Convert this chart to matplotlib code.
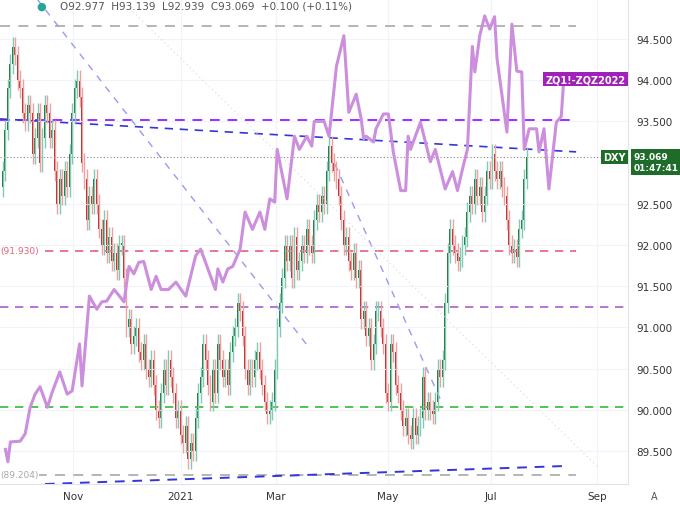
import numpy as np
import matplotlib.pyplot as plt
from matplotlib.patches import Rectangle

# DXY daily closes (bar index 0 = late Sep 2020)
closes = [
    92.9, 93.4, 93.9, 94.2, 94.4, 94.3, 94.0, 93.9, 93.6, 93.5,
    93.7, 93.6, 93.1, 93.3, 93.6, 93.0, 93.3, 93.7, 93.6, 93.3,
    93.4, 92.9, 92.5, 92.8, 92.6, 92.9, 92.7, 93.1, 93.6, 93.9,
    94.0, 93.8, 93.0, 92.8, 92.3, 92.6, 92.5, 92.8, 92.5, 92.2,
    92.0, 92.3, 91.9, 92.1, 91.8, 91.9, 91.7, 92.0, 92.0, 91.6,
    91.0, 91.1, 90.8, 90.9, 91.0, 90.7, 90.6, 90.8, 90.5, 90.4,
    90.6, 90.3, 90.0, 89.9, 90.2, 90.5, 90.3, 90.6, 90.4, 90.2,
    89.9, 90.0, 89.7, 89.6, 89.8, 89.4, 89.6, 89.5, 89.9, 90.2,
    90.4, 90.8, 90.6, 90.3, 90.1, 90.5, 90.2, 90.8, 90.6, 90.4,
    90.5, 90.3, 90.7, 90.9, 91.0, 91.3, 91.2, 90.9, 90.5, 90.3,
    90.5, 90.4, 90.6, 90.7, 90.5, 90.3, 90.1, 89.95, 90.0, 90.1,
    90.5, 91.0, 91.3, 91.6, 92.0, 91.8, 92.0, 91.6, 92.1, 91.7,
    91.8, 92.0, 91.9, 92.2, 92.0, 91.9, 92.3, 92.5, 92.4, 92.6,
    92.5, 92.9, 93.2, 93.0, 92.9, 92.8, 92.6, 92.3, 92.0, 92.1,
    91.8, 91.7, 91.9, 91.6, 91.7, 91.1, 91.2, 90.9, 91.0, 90.6,
    90.8, 91.2, 91.2, 91.0, 90.8, 90.2, 90.1, 90.8, 90.7, 90.3,
    90.2, 90.0, 89.8, 89.9, 89.7, 89.65, 89.9, 89.7, 89.8, 89.9,
    90.4, 90.0, 90.1, 90.0, 89.95, 90.1, 90.5, 90.4, 90.6, 91.3,
    91.9, 92.2, 92.0, 91.9, 91.8, 91.85, 92.0, 92.1, 92.4, 92.6,
    92.5, 92.8, 92.6, 92.7, 92.4, 92.6, 92.9, 92.8, 93.1, 92.9,
    92.8, 92.9, 92.7, 92.6, 92.3, 92.0, 91.9, 91.95, 91.85, 92.2,
    92.3, 92.8, 93.069,
]
first_open = 92.7

# ZQ1!-ZQZ2022 spread overlay, read at these bar indices (price-scaled)
zq_idx = [1, 2, 3, 7, 9, 11, 13, 15, 18, 20, 23, 26, 28, 31, 32, 35, 38, 40, 42, 45,
          49, 51, 53, 55, 57, 60, 62, 64, 67, 70, 74, 78, 80, 82, 86, 87, 89, 91, 93, 96,
          98, 101, 104, 106, 108, 110, 111, 115, 118, 120, 123, 125, 126, 130, 132, 135, 138,
          140, 143, 145, 146, 147, 150, 151, 154, 156, 158, 161, 163, 164, 165, 169, 171, 173,
          175, 179, 182, 184, 186, 188, 190, 191, 193, 195, 197, 199, 200, 204, 206, 208, 210,
          211, 213, 216, 217, 219, 221, 224, 226, 227]
zq_val = [89.52, 89.37, 89.61, 89.62, 89.71, 90.03, 90.19, 90.28, 90.03, 90.22, 90.46, 90.19,
          90.23, 90.80, 90.29, 91.38, 91.22, 91.31, 91.32, 91.46, 91.31, 91.74, 91.65, 91.79,
          91.80, 91.46, 91.62, 91.46, 91.46, 91.55, 91.38, 91.87, 91.95, 91.79, 91.46, 91.71,
          91.55, 91.71, 91.74, 91.95, 92.40, 92.19, 92.40, 92.19, 92.56, 92.52, 93.16, 92.56,
          93.32, 93.16, 93.32, 93.20, 93.50, 93.50, 93.32, 94.17, 94.54, 93.61, 93.83, 93.53,
          93.29, 93.32, 93.25, 93.41, 93.59, 93.59, 93.13, 92.66, 92.66, 93.32, 93.16, 93.49,
          93.25, 93.01, 93.16, 92.68, 92.89, 92.66, 92.92, 93.16, 94.41, 94.10, 94.54, 94.78,
          94.62, 94.77, 94.26, 93.37, 94.68, 94.11, 94.10, 93.16, 93.41, 93.41, 93.13, 93.41,
          92.68, 93.49, 93.56, 94.01]

tick_pos = [28.4, 72, 110.5, 155.9, 197.6, 240.5]
tick_lab = ["Nov", "2021", "Mar", "May", "Jul", "Sep"]
# 93.000 is hidden behind the live price box
y_ticks = [89.5, 90.0, 90.5, 91.0, 91.5, 92.0, 92.5, 93.5, 94.0, 94.5]

fig = plt.figure(figsize=(6.8, 5.06), dpi=100)
ax = fig.add_axes([0, 0.0415, 0.9235, 0.9585])
ax.set_xlim(-1.2, 253)
ax.set_ylim(89.1, 94.985)

ax.set_yticks(y_ticks)
ax.set_xticks(tick_pos)
ax.set_xticklabels(tick_lab)
ax.grid(color="#f0f3fa", lw=0.8)
ax.yaxis.tick_right()
ax.tick_params(axis="y", length=0, labelsize=7.5, colors="#333333", pad=6)
ax.tick_params(axis="x", length=0, labelsize=7.5, colors="#333333", pad=5)
ax.yaxis.set_major_formatter(plt.FuncFormatter(lambda v, p: f"{v:.3f}"))
for s in ["top", "left"]:
    ax.spines[s].set_visible(False)
ax.spines["right"].set_color("#e0e3eb")
ax.spines["bottom"].set_color("#e0e3eb")

# horizontal / trend lines
end = 232
ax.plot([-1.2, end], [94.66, 94.66], ls=(0, (6, 5)), color="#a8a8a8", lw=1.2)
ax.plot([-1.2, end], [89.21, 89.21], ls=(0, (6, 5)), color="#a8a8a8", lw=1.2)
ax.plot([-1.2, end], [93.52, 93.52], ls=(0, (5, 4)), color="#9b30ff", lw=1.4)
ax.plot([-1.2, end], [91.93, 91.93], ls=(0, (5, 4)), color="#e0607e", lw=1.2)
ax.plot([-1.2, 253], [91.25, 91.25], ls=(0, (5, 4)), color="#b05cc8", lw=1.2)
ax.plot([-1.2, 253], [90.03, 90.03], ls=(0, (5, 4)), color="#33bb33", lw=1.2)
ax.plot([-1.2, end], [93.53, 93.13], ls=(0, (5, 4)), color="#3535d8", lw=1.2)
ax.plot([17, 229], [89.1, 89.32], ls=(0, (5, 4)), color="#3535d8", lw=1.4)
ax.plot([13.8, 124.3], [94.985, 90.74], ls=(0, (5, 5)), color="#9a9af0", lw=1.0)
ax.plot([134.4, 177], [92.98, 90.13], ls=(0, (5, 5)), color="#9a9af0", lw=1.0)
ax.plot([47.4, 241], [94.985, 89.3], ls=(0, (1, 3)), color="#d8d8e0", lw=0.8)
ax.axhline(closes[-1], ls=(0, (1, 2)), color="#888888", lw=0.8)

# candles
opens = [first_open] + closes[:-1]
for i, (o, c) in enumerate(zip(opens, closes)):
    up = c >= o
    body = "#1e6b2a" if up else "#b3211e"
    wick = "#82c9b6" if up else "#f0a0a0"
    ax.vlines(i, min(o, c) - 0.12, max(o, c) + 0.12, color=wick, lw=1)
    h = max(abs(c - o), 0.02)
    ax.add_patch(Rectangle((i - 0.38, min(o, c)), 0.76, h, color=body, lw=0))

ax.plot(zq_idx, zq_val, color="#cc8fdd", lw=2.2, solid_joinstyle="round")

# labels
ax.text(-1, 91.93, "(91.930)", color="#e0607e", fontsize=6.5, va="center", ha="left",
        bbox=dict(fc="white", ec="none", pad=0))
ax.text(-1, 89.21, "(89.204)", color="#a8a8a8", fontsize=6.5, va="center", ha="left",
        bbox=dict(fc="white", ec="none", pad=0))
ax.text(252, 94.01, "ZQ1!-ZQZ2022", color="white", fontsize=7, weight="bold", va="center",
        ha="right", bbox=dict(fc="#a020b8", ec="none", pad=1.5))
ax.text(252, closes[-1], "DXY", color="white", fontsize=7, weight="bold", va="center",
        ha="right", bbox=dict(fc="#1e6b2a", ec="none", pad=1.5))
fig.text(0.932, 0.678, "93.069\n01:47:41", color="white", fontsize=6.5, weight="bold",
         va="center", ha="left", linespacing=1.3, bbox=dict(fc="#1e6b2a", ec="none", pad=2))
fig.text(0.088, 0.987, "O92.977  H93.139  L92.939  C93.069  +0.100 (+0.11%)",
         color="#555555", fontsize=7.5, va="center")
fig.text(0.053, 0.987, "●", color="#26a69a", fontsize=8, va="center")
fig.text(0.962, 0.018, "A", color="#555555", fontsize=7, va="center", ha="center")

fig.savefig("out.png", dpi=100)
